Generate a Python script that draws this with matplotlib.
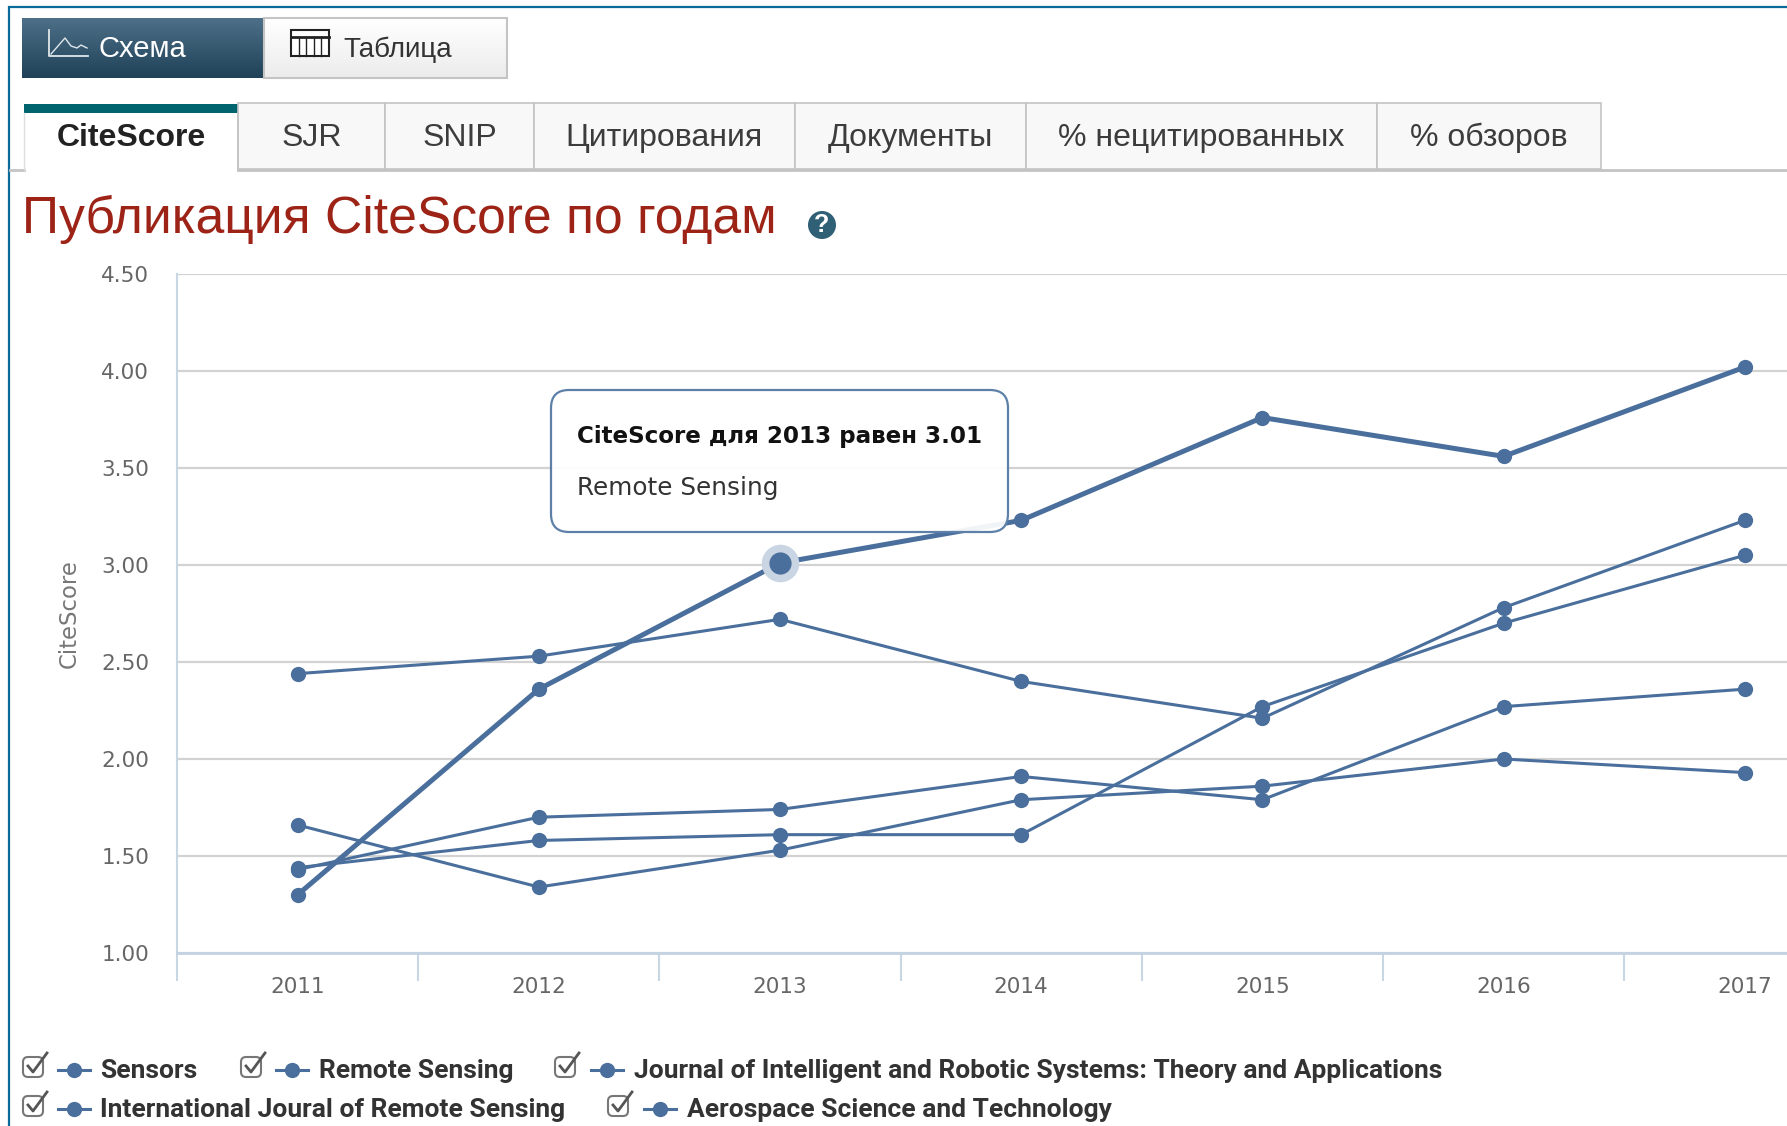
import matplotlib
matplotlib.use("Agg")
import matplotlib.pyplot as plt
import numpy as np
from matplotlib.patches import Circle, FancyBboxPatch, Rectangle

years = ["2011", "2012", "2013", "2014", "2015", "2016", "2017"]
y_ticks = [1.0, 1.5, 2.0, 2.5, 3.0, 3.5, 4.0, 4.5]

sensors = [2.44, 2.53, 2.72, 2.40, 2.21, 2.78, 3.23]
remote_sensing = [1.30, 2.36, 3.01, 3.23, 3.76, 3.56, 4.02]
intelligent_robotic = [1.44, 1.58, 1.61, 1.61, 2.27, 2.70, 3.05]
intl_remote_sensing = [1.43, 1.70, 1.74, 1.91, 1.79, 2.27, 2.36]
aerospace = [1.66, 1.34, 1.53, 1.79, 1.86, 2.00, 1.93]

tab_names = ["CiteScore", "SJR", "SNIP", "Цитирования", "Документы", "% нецитированных", "% обзоров"]
tab_edges = [24, 238, 385, 534, 795, 1026, 1377, 1601]

W, H = 1787, 1126
BLUE = "#4a6f9c"

fig = plt.figure(figsize=(W / 100, H / 100), dpi=100, facecolor="white")

# chart area, right side runs off the screenshot
ax = fig.add_axes([177 / W, 1 - 953 / H, (W - 177) / W, (953 - 274) / H], zorder=2)
ax.patch.set_alpha(0)
x = np.arange(len(years))
for vals in [sensors, intelligent_robotic, intl_remote_sensing, aerospace]:
    ax.plot(x, vals, color=BLUE, lw=2.2, marker="o", ms=11, mew=0, clip_on=False)
ax.plot(x, remote_sensing, color=BLUE, lw=3.6, marker="o", ms=11, mew=0, clip_on=False)

# hovered point
ax.plot(x[2], remote_sensing[2], "o", color="#c9d5e3", ms=27, mew=0, zorder=3)
ax.plot(x[2], remote_sensing[2], "o", color=BLUE, ms=16, mew=0, zorder=4)

ax.set_xlim(-0.5, 6.175)
ax.set_ylim(1.0, 4.5)
ax.set_xticks(x)
ax.set_xticklabels(years, fontsize=15.5, color="#666666", family="DejaVu Sans")
ax.set_xticks(x - 0.5, minor=True)
ax.tick_params(axis="x", which="major", length=0, pad=17)
ax.tick_params(axis="x", which="minor", length=20, width=1.5, color="#c9d6e4")
ax.set_yticks(y_ticks)
ax.set_yticklabels([f"{v:.2f}" for v in y_ticks], fontsize=15.5, color="#666666", family="DejaVu Sans")
ax.tick_params(axis="y", length=0, pad=20)
ax.grid(axis="y", color="#d2d2d2", lw=1.6)
ax.set_axisbelow(True)
for s in ["top", "right"]:
    ax.spines[s].set_visible(False)
ax.spines["left"].set_color("#c9d6e4")
ax.spines["left"].set_linewidth(1.5)
ax.spines["bottom"].set_color("#c4d2e2")
ax.spines["bottom"].set_linewidth(2)
ax.set_ylabel("CiteScore", fontsize=16.4, color="#777777", family="DejaVu Sans")
ax.yaxis.set_label_coords(-0.0596, 0.5)

# page furniture, in screenshot pixels
ui = fig.add_axes([0, 0, 1, 1], zorder=3)
ui.patch.set_alpha(0)
ui.axis("off")

grad = np.linspace(0, 1, 64).reshape(-1, 1)
ui.imshow(grad, extent=(22, 264, 78, 18), cmap=matplotlib.colors.LinearSegmentedColormap.from_list("d", ["#4d7088", "#1f4259"]),
          aspect="auto", origin="upper")
ui.imshow(grad, extent=(264, 507, 78, 18), cmap=matplotlib.colors.LinearSegmentedColormap.from_list("l", ["#ffffff", "#ececec"]),
          aspect="auto", origin="upper")
ui.set_xlim(0, W)
ui.set_ylim(H, 0)
ui.add_patch(Rectangle((264, 18), 243, 60, fc="none", ec="#c4c4c4", lw=1.5))

# screenshot frame
ui.plot([9, 9, W], [H, 7, 7], color="#0a6a9a", lw=1.6, solid_joinstyle="miter")

# Схема icon
ui.plot([49, 49, 88], [30, 56, 56], color="#dfe7ec", lw=1.3)
ui.plot([51, 58, 65, 71, 77, 81, 87], [54, 46, 38, 46, 48, 45, 48], color="#dfe7ec", lw=1)
ui.text(99, 49, "Схема", fontsize=21, color="#ffffff", va="center", family="Liberation Sans")

# Таблица icon
ui.add_patch(Rectangle((291, 30), 38, 26, fc="white", ec="#222222", lw=1.5))
ui.plot([291, 329], [37, 37], color="#222222", lw=2)
for xi in [299, 306, 314, 321]:
    ui.plot([xi, xi], [37, 56], color="#222222", lw=1)
ui.text(343, 50, "Таблица", fontsize=20, color="#333333", va="center", family="Liberation Sans")

# tabs
ui.plot([10, 24], [170, 170], color="#c4c4c4", lw=2)
ui.plot([238, W], [170, 170], color="#c4c4c4", lw=2)
for i, name in enumerate(tab_names):
    x0, x1 = tab_edges[i], tab_edges[i + 1]
    if i == 0:
        ui.add_patch(Rectangle((x0, 104), x1 - x0, 67, fc="white", ec="none"))
        ui.plot([x1, x1], [113, 170], color="#c4c4c4", lw=1.2)
        ui.plot([x0, x0], [113, 170], color="#dddddd", lw=1)
        ui.add_patch(Rectangle((x0, 104), x1 - x0, 9, fc="#00646e", ec="none"))
    else:
        ui.add_patch(Rectangle((x0, 103), x1 - x0, 66, fc="#f8f8f8", ec="#c4c4c4", lw=1.2))
    ui.text((x0 + x1) / 2, 138, name, fontsize=23, ha="center", va="center",
            color="#222222" if i == 0 else "#3c3c3c", family="Liberation Sans",
            fontweight="bold" if i == 0 else "normal")

# title
ui.text(22, 219, "Публикация CiteScore по годам", fontsize=37.2, color="#9c2316", va="center", family="Liberation Sans")
ui.add_patch(Circle((822, 225), 14, fc="#2f6075", ec="none"))
ui.text(822, 225, "?", fontsize=18, color="white", ha="center", va="center", fontweight="bold", family="Liberation Sans")

# tooltip
ui.add_patch(FancyBboxPatch((551, 390), 457, 142, boxstyle="round,pad=0,rounding_size=18",
                            fc=(1, 1, 1, 0.93), ec="#5d80a8", lw=1.6, zorder=5))
ui.text(577, 437, "CiteScore для 2013 равен 3.01", fontsize=16.6, fontweight="bold", color="#111111",
        va="center", family="DejaVu Sans", zorder=6)
ui.text(577, 488, "Remote Sensing", fontsize=17.8, color="#333333", va="center", family="DejaVu Sans", zorder=6)


def legend_item(box_x, line_x, text_x, y, label):
    ui.add_patch(FancyBboxPatch((box_x, y - 12), 20, 20, boxstyle="round,pad=0,rounding_size=5",
                                fc="white", ec="#777777", lw=1.5))
    ui.plot([box_x + 5, box_x + 10, box_x + 24], [y - 3, y + 3, y - 16], color="#555555", lw=2)
    ui.plot([line_x, line_x + 32], [y + 1, y + 1], color=BLUE, lw=2.2)
    ui.plot([line_x + 16], [y + 1], "o", color=BLUE, ms=11, mew=0)
    ui.text(text_x, y + 2, label, fontsize=19, fontweight="bold", color="#333333", va="center", family="Roboto")


legend_item(23, 58, 100, 1069, "Sensors")
legend_item(241, 276, 319, 1069, "Remote Sensing")
legend_item(555, 591, 634, 1069, "Journal of Intelligent and Robotic Systems: Theory and Applications")
legend_item(23, 58, 100, 1108, "International Joural of Remote Sensing")
legend_item(608, 644, 687, 1108, "Aerospace Science and Technology")

fig.savefig("out.png", dpi=100)
